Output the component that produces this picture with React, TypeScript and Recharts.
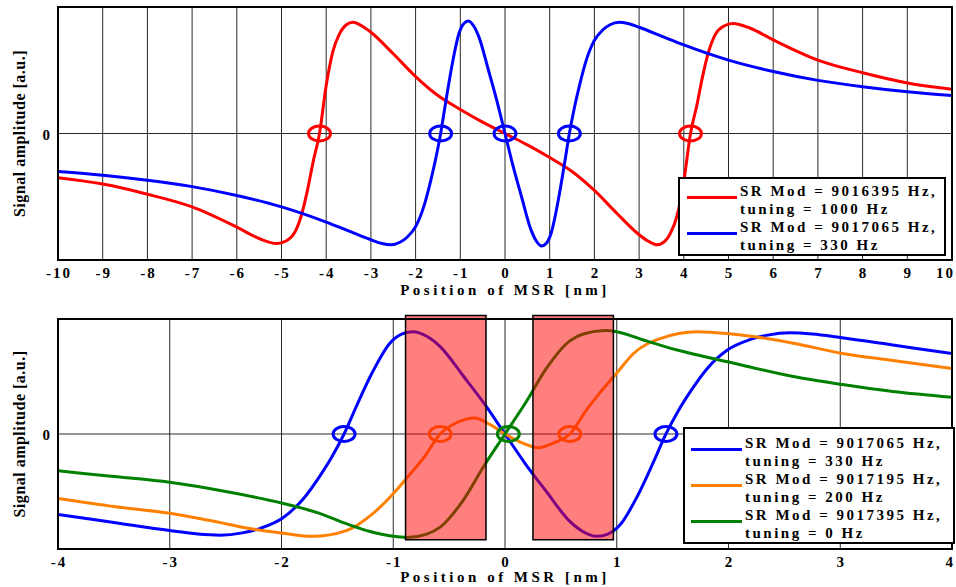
import React from 'react';
import {
  ComposedChart,
  Line,
  Scatter,
  XAxis,
  YAxis,
  CartesianGrid,
  ReferenceLine,
  ReferenceArea,
  Label,
  Legend,
} from 'recharts';

const SERIF = '"Liberation Serif", "Times New Roman", Times, serif';

const RED = '#ff0000';
const BLUE = '#0000ff';
const ORANGE = '#ff8000';
const GREEN = '#008000';

// x ticks, nm
const topTicks = [-10, -9, -8, -7, -6, -5, -4, -3, -2, -1, 0, 1, 2, 3, 4, 5, 6, 7, 8, 9, 10];
const bottomTicks = [-4, -3, -2, -1, 0, 1, 2, 3, 4];

// SR Mod = 9016395 Hz, tuning = 1000 Hz
const redX = [
  -10, -9, -8, -7, -6, -5.5, -5.1, -4.9, -4.7, -4.55, -4.42, -4.29, -4.15, -4.0, -3.85, -3.7, -3.55,
  -3.4, -3.2, -3.0, -2.5, -2.0, -1.5, -1.0, -0.5, 0, 0.5, 1.0, 1.5, 2.0, 2.5, 3.0, 3.2, 3.4, 3.55,
  3.7, 3.85, 4.0, 4.15, 4.29, 4.42, 4.55, 4.7, 4.9, 5.1, 5.5, 6, 7, 8, 9, 10,
];
const redY = [
  -0.35, -0.4, -0.48, -0.58, -0.74, -0.83, -0.87, -0.85, -0.78, -0.64, -0.45, -0.22, 0, 0.38, 0.65,
  0.79, 0.86, 0.88, 0.85, 0.8, 0.63, 0.45, 0.3, 0.19, 0.09, 0, -0.09, -0.19, -0.3, -0.45, -0.63, -0.8,
  -0.85, -0.88, -0.86, -0.79, -0.65, -0.38, 0, 0.22, 0.45, 0.64, 0.78, 0.85, 0.87, 0.83, 0.74, 0.58,
  0.48, 0.4, 0.35,
];

// SR Mod = 9017065 Hz, tuning = 330 Hz (both panels)
const blueX = [
  -10, -9, -8, -7, -6, -5, -4, -3.5, -3.0, -2.75, -2.55, -2.35, -2.19, -1.99, -1.81, -1.66, -1.55,
  -1.44, -1.33, -1.19, -1.03, -0.92, -0.82, -0.7, -0.58, -0.37, -0.19, 0, 0.19, 0.37, 0.58, 0.7, 0.82,
  0.92, 1.03, 1.19, 1.33, 1.44, 1.55, 1.66, 1.81, 1.99, 2.19, 2.35, 2.55, 2.75, 3.0, 3.5, 4, 5, 6, 7,
  8, 9, 10,
];
const blueY = [
  -0.3, -0.33, -0.37, -0.42, -0.49, -0.58, -0.7, -0.77, -0.84, -0.87, -0.88, -0.86, -0.82, -0.73,
  -0.57, -0.37, -0.2, 0, 0.24, 0.53, 0.79, 0.87, 0.89, 0.85, 0.76, 0.5, 0.27, 0, -0.27, -0.5, -0.76,
  -0.85, -0.89, -0.87, -0.79, -0.53, -0.24, 0, 0.2, 0.37, 0.57, 0.73, 0.82, 0.86, 0.88, 0.87, 0.84,
  0.77, 0.7, 0.58, 0.49, 0.42, 0.37, 0.33, 0.3,
];

// SR Mod = 9017195 Hz, tuning = 200 Hz
const orangeX = [
  -4, -3.5, -3, -2.5, -2.3, -2.0, -1.72, -1.42, -1.18, -1.0, -0.85, -0.73, -0.58, -0.43, -0.27, -0.13,
  0, 0.16, 0.3, 0.43, 0.58, 0.73, 0.85, 1.0, 1.15, 1.39, 1.72, 2.03, 2.58, 3.02, 3.47, 4,
];
const orangeY = [
  -0.56, -0.63, -0.69, -0.78, -0.82, -0.86, -0.89, -0.84, -0.69, -0.52, -0.35, -0.21, 0, 0.1, 0.14,
  0.08, 0, -0.08, -0.12, -0.08, 0, 0.21, 0.36, 0.53, 0.7, 0.83, 0.89, 0.87, 0.79, 0.7, 0.64, 0.57,
];

// SR Mod = 9017395 Hz, tuning = 0 Hz
const greenX = [
  -4, -3.5, -3, -2.5, -2, -1.66, -1.42, -1.2, -1.0, -0.88, -0.7, -0.58, -0.37, -0.19, 0, 0.19, 0.37,
  0.58, 0.7, 0.9, 1.0, 1.23, 1.54, 2.03, 2.58, 3.02, 3.47, 4,
];
const greenY = [
  -0.32, -0.37, -0.42, -0.5, -0.6, -0.69, -0.78, -0.85, -0.89, -0.9, -0.87, -0.81, -0.57, -0.28, 0,
  0.28, 0.57, 0.81, 0.87, 0.9, 0.89, 0.82, 0.73, 0.62, 0.5, 0.43, 0.37, 0.32,
];

// zero crossings marked with rings
const redTopCross = [-4.15, 4.15];
const blueTopCross = [-1.44, 0, 1.44];
const blueBottomCross = [-1.44, 1.44];
const orangeBottomCross = [-0.58, 0.58];
const greenBottomCross = [0.03];

// shaded windows in the lower panel (x from, x to) and their vertical extent
const windowsX = [
  [-0.89, -0.17],
  [0.25, 0.97],
];
const windowsY = [-0.92, 1.03];

const pts = (xs: number[], ys: number[]) => xs.map((x, i) => ({ x, y: ys[i] }));
const rings = (xs: number[]) => xs.map((x) => ({ x, y: 0 }));

type Series = {
  key: string;
  color: string;
  l1: string;
  l2: string;
  data: { x: number; y: number }[];
  cross: { x: number; y: number }[];
};

const topSeries: Series[] = [
  { key: 'red', color: RED, l1: 'SR Mod = 9016395 Hz,', l2: 'tuning = 1000 Hz', data: pts(redX, redY), cross: rings(redTopCross) },
  { key: 'blue', color: BLUE, l1: 'SR Mod = 9017065 Hz,', l2: 'tuning = 330 Hz', data: pts(blueX, blueY), cross: rings(blueTopCross) },
];

const bottomSeries: Series[] = [
  { key: 'blue', color: BLUE, l1: 'SR Mod = 9017065 Hz,', l2: 'tuning = 330 Hz', data: pts(blueX, blueY), cross: rings(blueBottomCross) },
  { key: 'orange', color: ORANGE, l1: 'SR Mod = 9017195 Hz,', l2: 'tuning = 200 Hz', data: pts(orangeX, orangeY), cross: rings(orangeBottomCross) },
  { key: 'green', color: GREEN, l1: 'SR Mod = 9017395 Hz,', l2: 'tuning = 0 Hz', data: pts(greenX, greenY), cross: rings(greenBottomCross) },
];

// last tick label sits on the right edge; keep it inside the picture
const xTick = (dy: number, last: number) => (p: any) => {
  const atEdge = p.payload.value === last;
  return (
    <text
      x={atEdge ? 955 : p.x + 1}
      y={p.y + dy}
      textAnchor={atEdge ? 'end' : 'middle'}
      fontFamily={SERIF}
      fontWeight="bold"
      fontSize={15}
      letterSpacing={2}
      fill="#000"
    >
      {p.payload.value}
    </text>
  );
};

const yTick = (p: any) => (
  <text x={p.x - 8} y={p.y + 6} textAnchor="end" fontFamily={SERIF} fontWeight="bold" fontSize={15} fill="#000">
    {p.payload.value}
  </text>
);

const xTitle = (dy: number) => (p: any) => {
  const vb = p.viewBox;
  return (
    <text
      x={vb.x + vb.width / 2}
      y={vb.y + dy}
      textAnchor="middle"
      fontFamily={SERIF}
      fontWeight="bold"
      fontSize={15}
      letterSpacing={3.5}
      fill="#000"
    >
      Position of MSR [nm]
    </text>
  );
};

const yTitle = (p: any) => {
  const vb = p.viewBox;
  const cx = 19;
  const cy = vb.y + vb.height / 2;
  return (
    <text
      x={cx}
      y={cy}
      transform={`rotate(-90, ${cx}, ${cy})`}
      textAnchor="middle"
      dominantBaseline="central"
      fontFamily={SERIF}
      fontWeight="bold"
      fontSize={16}
      letterSpacing={0.5}
      fill="#000"
    >
      Signal amplitude [a.u.]
    </text>
  );
};

const ring = (color: string) => (p: any) => (
  <ellipse cx={p.cx} cy={p.cy} rx={11} ry={7.5} fill="none" stroke={color} strokeWidth={3} />
);

const legendBox = (series: Series[], lineLeft: number, lineW: number, padTop: number) => () => (
  <div
    style={{
      boxSizing: 'border-box',
      border: '2px solid #000',
      background: '#fff',
      paddingTop: padTop,
      fontFamily: SERIF,
      fontWeight: 'bold',
      fontSize: 15,
      letterSpacing: 2.5,
      color: '#000',
    }}
  >
    {series.map((s) => (
      <div key={s.key} style={{ display: 'flex', alignItems: 'flex-start', height: 36 }}>
        <div
          style={{ flex: 'none', width: lineW, height: 3, background: s.color, marginLeft: lineLeft, marginTop: 14, marginRight: 3 }}
        />
        <div style={{ lineHeight: '18px', whiteSpace: 'nowrap' }}>
          {s.l1}
          <br />
          {s.l2}
        </div>
      </div>
    ))}
  </div>
);

interface PanelProps {
  top: number;
  height: number;
  plotTop: number;
  axisH: number;
  domain: [number, number];
  ticks: number[];
  series: Series[];
  windows: number[][];
  legendPos: { left: number; top: number; width: number };
  lineLeft: number;
  lineW: number;
  padTop: number;
  titleDy: number;
}

function Panel(props: PanelProps) {
  const { top, height, plotTop, axisH, domain, ticks, series, windows, legendPos } = props;
  return (
    <div style={{ position: 'absolute', left: 0, top }}>
      <ComposedChart width={956} height={height} margin={{ top: plotTop, right: 4, bottom: 0, left: 0 }}>
        <CartesianGrid horizontal={false} stroke="#2a2a2a" strokeWidth={1} />
        <XAxis
          type="number"
          dataKey="x"
          domain={domain}
          ticks={ticks}
          interval={0}
          allowDataOverflow
          height={axisH}
          axisLine={false}
          tickLine={false}
          tickSize={0}
          tickMargin={0}
          tick={xTick(18, domain[1])}
        >
          <Label content={xTitle(props.titleDy)} />
        </XAxis>
        <YAxis
          type="number"
          dataKey="y"
          domain={[-1, 1]}
          ticks={[0]}
          allowDataOverflow
          width={58}
          axisLine={false}
          tickLine={false}
          tickSize={0}
          tickMargin={0}
          tick={yTick}
        >
          <Label content={yTitle} />
        </YAxis>
        <ReferenceLine y={0} stroke="#2a2a2a" strokeWidth={1} zIndex={-50} />
        {series.map((s) => (
          <Line
            key={s.key}
            data={s.data}
            dataKey="y"
            type="monotone"
            stroke={s.color}
            strokeWidth={3}
            dot={false}
            activeDot={false}
            isAnimationActive={false}
          />
        ))}
        {series.map((s) => (
          <Scatter
            key={'c-' + s.key}
            data={s.cross}
            dataKey="y"
            shape={ring(s.color)}
            legendType="none"
            isAnimationActive={false}
            zIndex={450}
          />
        ))}
        {windows.map((w, i) => (
          <ReferenceArea
            key={'w' + i}
            x1={w[0]}
            x2={w[1]}
            y1={windowsY[0]}
            y2={windowsY[1]}
            ifOverflow="visible"
            fill={RED}
            fillOpacity={0.5}
            stroke="#000"
            strokeWidth={1.5}
            zIndex={800}
          />
        ))}
        <ReferenceArea
          x1={domain[0]}
          x2={domain[1]}
          y1={-1}
          y2={1}
          ifOverflow="visible"
          fill="none"
          stroke="#000"
          strokeWidth={2}
          zIndex={900}
        />
        <Legend
          layout="vertical"
          align="center"
          verticalAlign="middle"
          wrapperStyle={{ left: legendPos.left, top: legendPos.top, width: legendPos.width, bottom: 'auto', right: 'auto' }}
          content={legendBox(series, props.lineLeft, props.lineW, props.padTop)}
        />
      </ComposedChart>
    </div>
  );
}

export default function App() {
  return (
    <div style={{ position: 'absolute', left: 0, top: 0, width: 956, height: 587, background: '#fff', overflow: 'hidden' }}>
      <Panel
        top={0}
        height={300}
        plotTop={7}
        axisH={40}
        domain={[-10, 10]}
        ticks={topTicks}
        series={topSeries}
        windows={[]}
        legendPos={{ left: 678, top: 177, width: 268 }}
        lineLeft={7}
        lineW={50}
        padTop={3}
        titleDy={35}
      />
      <Panel
        top={300}
        height={287}
        plotTop={19}
        axisH={38}
        domain={[-4, 4]}
        ticks={bottomTicks}
        series={bottomSeries}
        windows={windowsX}
        legendPos={{ left: 683, top: 127, width: 272 }}
        lineLeft={6}
        lineW={51}
        padTop={5}
        titleDy={33}
      />
    </div>
  );
}
